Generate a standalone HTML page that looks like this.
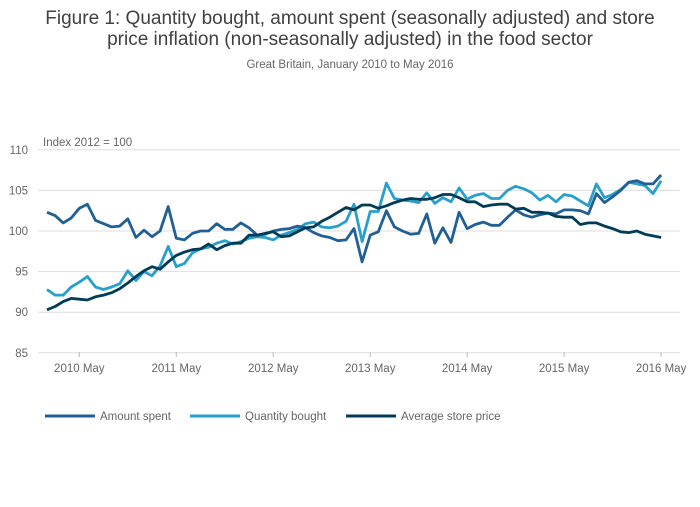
<!DOCTYPE html>
<html><head><meta charset="utf-8"><style>
body{margin:0;background:#fff;font-family:"Liberation Sans",sans-serif;}
svg text{font-family:"Liberation Sans",sans-serif;}
</style></head><body>
<svg width="700" height="502">
<text x="350" y="24" text-anchor="middle" font-size="19" fill="#414042">Figure 1: Quantity bought, amount spent (seasonally adjusted) and store</text>
<text x="350" y="45" text-anchor="middle" font-size="19" fill="#414042">price inflation (non-seasonally adjusted) in the food sector</text>
<text x="350" y="68" text-anchor="middle" font-size="11.5" fill="#666">Great Britain, January 2010 to May 2016</text>
<text x="43" y="146" font-size="11.5" fill="#666">Index 2012 = 100</text>
<g id="grid"></g><g id="xt"></g><g id="series"></g>
<g id="legend"></g>
</svg>
<script>
const yTicks=[85,90,95,100,105,110];
const xTickLabels=["2010 May","2011 May","2012 May","2013 May","2014 May","2015 May","2016 May"];
const xTickMonths=[4,16,28,40,52,64,76];
const amountSpent=[102.3,101.9,101.0,101.6,102.8,103.3,101.3,100.9,100.5,100.6,101.5,99.2,100.1,99.3,100.0,103.0,99.1,98.9,99.7,100.0,100.0,100.9,100.2,100.2,101.0,100.4,99.5,99.6,100.0,100.2,100.3,100.6,100.4,99.8,99.4,99.2,98.8,98.9,100.3,96.2,99.5,99.9,102.5,100.5,100.0,99.6,99.7,102.1,98.5,100.4,98.6,102.3,100.3,100.8,101.1,100.7,100.7,101.7,102.6,102.0,101.7,102.0,102.2,102.1,102.6,102.6,102.5,102.1,104.6,103.5,104.2,105.0,106.0,106.2,105.8,105.8,106.9];
const quantityBought=[92.8,92.1,92.1,93.1,93.7,94.4,93.1,92.8,93.1,93.5,95.1,93.9,95.0,94.5,95.7,98.1,95.6,96.0,97.3,97.8,98.0,98.5,98.8,98.4,98.7,99.1,99.3,99.2,98.9,99.5,99.8,100.2,100.9,101.1,100.5,100.4,100.6,101.2,103.3,98.7,102.4,102.4,105.9,104.0,103.8,103.7,103.5,104.7,103.4,104.1,103.6,105.3,103.9,104.4,104.6,104.0,104.0,105.0,105.5,105.2,104.7,103.8,104.4,103.6,104.5,104.3,103.7,103.1,105.8,104.1,104.5,105.1,106.0,105.8,105.6,104.6,106.2];
const averageStorePrice=[90.3,90.7,91.3,91.7,91.6,91.5,91.9,92.1,92.4,92.9,93.6,94.4,95.1,95.6,95.3,96.2,97.0,97.4,97.7,97.8,98.4,97.7,98.2,98.5,98.5,99.5,99.5,99.7,99.9,99.3,99.4,99.9,100.4,100.5,101.2,101.7,102.3,102.9,102.6,103.2,103.2,102.8,103.1,103.5,103.8,104.0,103.9,103.9,104.1,104.5,104.5,104.1,103.6,103.6,103.0,103.2,103.3,103.3,102.7,102.8,102.3,102.3,102.2,101.8,101.7,101.7,100.8,101.0,101.0,100.6,100.3,99.9,99.8,100.0,99.6,99.4,99.2];
const seriesNames=["Amount spent","Quantity bought","Average store price"];
const NS="http://www.w3.org/2000/svg";
const X0=47,DX=8.08,xR=680;
const xs=i=>X0+i*DX;
const ys=v=>231-(v-100)*8.12;
function mk(t,a,p){const e=document.createElementNS(NS,t);for(const k in a)e.setAttribute(k,a[k]);p.appendChild(e);return e;}
const grid=document.getElementById('grid');
yTicks.forEach(v=>{
 const l=mk('line',{x1:38,x2:xR,y1:ys(v),y2:ys(v),stroke:'#ddd','stroke-width':1},grid);
 
 
 const t=mk('text',{x:28,y:ys(v)+4,'text-anchor':'end','font-size':11.5,fill:'#666'},grid);
 t.textContent=v;
 
 
});
const xt=document.getElementById('xt');
xTickLabels.forEach((s,k)=>{
 const x=xs(xTickMonths[k]);
 const tk=mk('line',{x1:x,x2:x,y1:352,y2:357,stroke:'#bbb'},xt);
 
 
 const t=mk('text',{x:x,y:372,'text-anchor':'middle','font-size':11.5,fill:'#666'},xt);
 t.textContent=s;
 
 
});
const colors=["#206095","#27a0cc","#003c57"];
const data=[amountSpent,quantityBought,averageStorePrice];
const sg=document.getElementById('series');
[1,0,2].forEach(k=>{
 const d=data[k].map((v,i)=>(i?'L':'M')+xs(i).toFixed(1)+','+ys(v).toFixed(1)).join('');
 const p=mk('path',{d:d,fill:'none',stroke:colors[k],'stroke-width':2.8,'stroke-linejoin':'round'},sg);
 
 
});
const lg=document.getElementById('legend');
const lx=[45,190,346];
seriesNames.forEach((n,k)=>{
 const g=mk('g',{},lg);
 
 
 mk('line',{x1:lx[k],x2:lx[k]+50,y1:416,y2:416,stroke:colors[k],'stroke-width':3},g);
 const t=mk('text',{x:lx[k]+55,y:420,'font-size':11.5,fill:'#666'},g);
 t.textContent=n;
});
</script>
</body></html>
